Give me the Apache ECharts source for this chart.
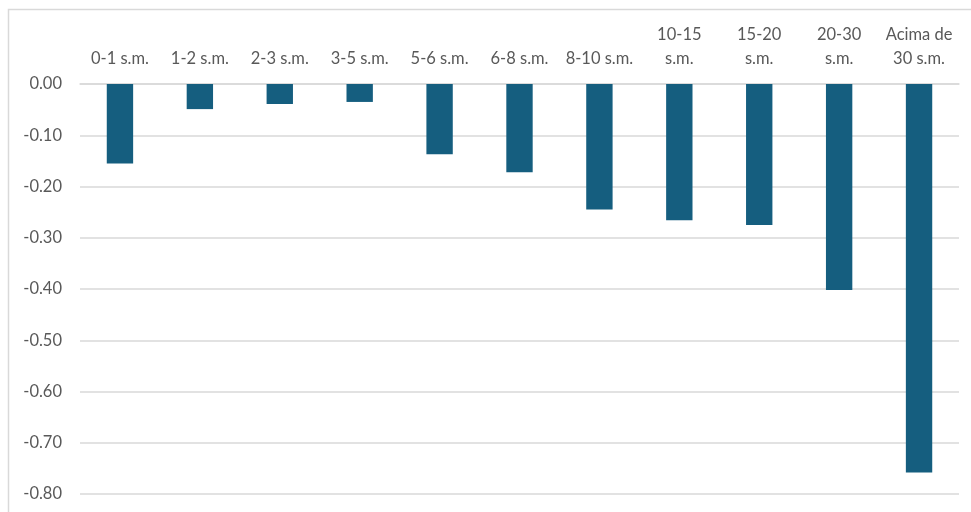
<!DOCTYPE html>
<html>
<head>
<meta charset="utf-8">
<script src="https://cdn.jsdelivr.net/npm/echarts@6/dist/echarts.min.js"></script>
<style>
html,body{margin:0;padding:0;background:#fff;}
#c{width:971px;height:512px;}
</style>
</head>
<body>
<div id="c"></div>
<script>
const categories = ['0-1 s.m.', '1-2 s.m.', '2-3 s.m.', '3-5 s.m.', '5-6 s.m.', '6-8 s.m.', '8-10 s.m.', '10-15\ns.m.', '15-20\ns.m.', '20-30\ns.m.', 'Acima de\n30 s.m.'];
const values = [-0.155, -0.049, -0.039, -0.035, -0.137, -0.172, -0.245, -0.266, -0.275, -0.402, -0.758];
const yMin = -0.8, yMax = 0, yStep = 0.1;

const chart = echarts.init(document.getElementById('c'), null, {renderer: 'canvas'});
chart.setOption({
  backgroundColor: '#ffffff',
  animation: false,
  graphic: [{
    type: 'rect',
    shape: {x: 8.5, y: 9.5, width: 980, height: 520},
    style: {fill: 'none', stroke: '#d9d9d9', lineWidth: 1.5},
    silent: true, z: -1
  }],
  grid: {left: 80, right: 12, top: 84, bottom: 18, containLabel: false},
  xAxis: {
    type: 'category',
    position: 'top',
    data: categories,
    axisLine: {show: true, lineStyle: {color: '#d9d9d9', width: 1.5}},
    axisTick: {show: false},
    axisLabel: {
      color: '#595959', fontSize: 16.5, fontFamily: 'Lato, "Open Sans", sans-serif',
      margin: 13, lineHeight: 24, interval: 0
    }
  },
  yAxis: {
    type: 'value',
    min: yMin, max: yMax, interval: yStep,
    axisLine: {show: false},
    axisTick: {show: false},
    splitLine: {lineStyle: {color: '#d9d9d9', width: 1.5}},
    axisLabel: {
      color: '#595959', fontSize: 16.5, fontFamily: 'Lato, "Open Sans", sans-serif',
      margin: 18,
      formatter: v => v.toFixed(2)
    }
  },
  series: [{
    type: 'bar',
    data: values,
    barWidth: '33%',
    itemStyle: {color: '#155E7F'}
  }]
});
</script>
</body>
</html>
